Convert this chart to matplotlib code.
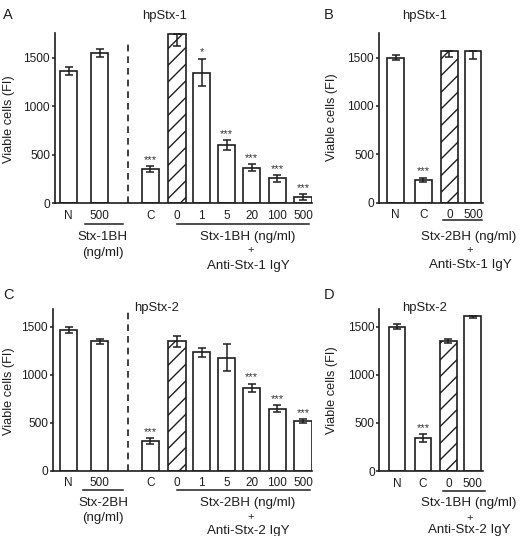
import matplotlib
matplotlib.use("Agg")
import matplotlib.pyplot as plt
from matplotlib.lines import Line2D

plt.rcParams['font.family'] = ['Liberation Sans', 'DejaVu Sans']
plt.rcParams['hatch.linewidth'] = 1.0
INK = '#1e1e1e'

W, H = 527, 536

# ---------------- data ----------------
A_labels = ['N', '500', 'C', '0', '1', '5', '20', '100', '500']
A_vals = [1362, 1545, 352, 1745, 1345, 598, 366, 253, 60]
A_err_lo = [38, 43, 28, 125, 143, 48, 34, 34, 30]
A_err_hi = [38, 43, 28, 0, 143, 48, 34, 34, 30]
A_sig = ['', '', '***', '', '*', '***', '***', '***', '***']

B_labels = ['N', 'C', '0', '500']
B_vals = [1500, 235, 1570, 1570]
B_err_lo = [28, 25, 68, 85]
B_err_hi = [28, 25, 0, 0]
B_sig = ['', '***', '', '']

C_labels = ['N', '500', 'C', '0', '1', '5', '20', '100', '500']
C_vals = [1465, 1345, 305, 1345, 1230, 1175, 860, 645, 515]
C_err_lo = [30, 22, 30, 55, 50, 140, 42, 35, 20]
C_err_hi = [30, 22, 30, 55, 50, 140, 42, 35, 20]
C_sig = ['', '', '***', '', '', '', '***', '***', '***']

D_labels = ['N', 'C', '0', '500']
D_vals = [1500, 342, 1348, 1615]
D_err_lo = [26, 38, 20, 30]
D_err_hi = [26, 38, 20, 0]
D_sig = ['', '***', '', '']

yticks = [0, 500, 1000, 1500]

# ---------------- layout ----------------
pos_wide = [0, 1.23, 3.25, 4.31, 5.28, 6.27, 7.26, 8.29, 9.31]
pos_B = [0, 1.07, 2.08, 2.99]
pos_D = [0, 1.01, 1.99, 2.93]


def fx(px):
    return px / W


def fy(py):
    return 1 - py / H


fig = plt.figure(figsize=(W / 100, H / 100), dpi=100)


def make_ax(left, right, top, bottom):
    return fig.add_axes([fx(left), fy(bottom), (right - left) / W, (bottom - top) / H])


def draw(ax, pos, vals, lo, hi, sig, labels, hatch_idx, width, xlim, ylim):
    bars = ax.bar(pos, vals, width=width, color='white', edgecolor=INK,
                  linewidth=1.2, zorder=2)
    bars[hatch_idx].set_hatch('//')
    ax.errorbar(pos, vals, yerr=[lo, hi], fmt='none', ecolor=INK,
                elinewidth=1.1, capsize=3.2, capthick=1.1, zorder=3)
    for x, v, h, s in zip(pos, vals, hi, sig):
        if s:
            ax.annotate(s, (x, v + h), xytext=(0, 1.0), textcoords='offset points',
                        ha='center', va='bottom', fontsize=8, color='#333333')
    ax.set_xlim(*xlim)
    ax.set_ylim(*ylim)
    ax.set_yticks(yticks)
    ax.set_xticks(pos)
    ax.set_xticklabels(labels)
    for s in ['top', 'right']:
        ax.spines[s].set_visible(False)
    for s in ['left', 'bottom']:
        ax.spines[s].set_linewidth(1.2)
        ax.spines[s].set_color(INK)
    ax.tick_params(axis='y', length=2.5, width=1.1, pad=0.8, labelsize=8.6, colors=INK)
    ax.tick_params(axis='x', length=0, pad=4.8, labelsize=8.5, colors=INK)
    ax.set_facecolor('none')


axA = make_ax(54.5, 312, 33.3, 203)
draw(axA, pos_wide, A_vals, A_err_lo, A_err_hi, A_sig, A_labels, 3, 0.7,
     (-0.556, 9.66), (0, 1750))
axA.axvline(2.37, ymin=0, ymax=0.96, color=INK, linestyle=(0, (4, 3)), linewidth=1.2)

axB = make_ax(378.5, 483, 33.3, 202.7)
draw(axB, pos_B, B_vals, B_err_lo, B_err_hi, B_sig, B_labels, 2, 0.65,
     (-0.667, 3.38), (0, 1750))

axC = make_ax(52.5, 312, 309.3, 470.5)
draw(axC, pos_wide, C_vals, C_err_lo, C_err_hi, C_sig, C_labels, 3, 0.7,
     (-0.635, 9.66), (0, 1680))
axC.axvline(2.37, ymin=0, ymax=1.0, color=INK, linestyle=(0, (4, 3)), linewidth=1.2)

axD = make_ax(379.3, 483, 309.3, 471)
draw(axD, pos_D, D_vals, D_err_lo, D_err_hi, D_sig, D_labels, 2, 0.65,
     (-0.686, 3.33), (0, 1680))


def ftext(x, y, s, size=9.6, ha='center', rot=0):
    fig.text(fx(x), fy(y), s, ha=ha, va='center', fontsize=size, color=INK, rotation=rot)


def hline(x0, x1, y):
    fig.add_artist(Line2D([fx(x0), fx(x1)], [fy(y), fy(y)], color=INK, linewidth=1.1))


# y labels
for (x, y) in [(9, 119), (332, 117), (9, 391), (332, 390)]:
    ftext(x, y, 'Viable cells (FI)', size=9.2, rot=90)

# panel letters
ftext(3, 15, 'A', size=10.5, ha='left')
ftext(324, 15, 'B', size=10.5, ha='left')
ftext(3, 295, 'C', size=10.5, ha='left')
ftext(324, 295, 'D', size=10.5, ha='left')

# titles
ftext(165, 16, 'hpStx-1', size=9.4)
ftext(425, 16, 'hpStx-1', size=9.4)
ftext(134, 308, 'hpStx-2', size=9.4, ha='left')
ftext(425, 308, 'hpStx-2', size=9.4)

# group annotations A
hline(85, 122.7, 224.3)
ftext(103, 236.7, 'Stx-1BH')
ftext(103, 253.3, '(ng/ml)')
hline(176.7, 309.3, 224.3)
ftext(248, 236.7, 'Stx-1BH (ng/ml)')
ftext(251, 250, '+', size=8)
ftext(248, 265.7, 'Anti-Stx-1 IgY')

# B
hline(442.7, 481.7, 220)
ftext(469, 236.7, 'Stx-2BH (ng/ml)')
ftext(470, 250, '+', size=8)
ftext(470, 265, 'Anti-Stx-1 IgY')

# C
hline(83, 122.7, 490)
ftext(103, 503.3, 'Stx-2BH')
ftext(103, 518.3, '(ng/ml)')
hline(176.7, 310, 490)
ftext(248, 503.3, 'Stx-2BH (ng/ml)')
ftext(251, 516.7, '+', size=8)
ftext(248, 531, 'Anti-Stx-2 IgY')

# D
hline(443, 485, 490.7)
ftext(469, 503.3, 'Stx-1BH (ng/ml)')
ftext(470, 518, '+', size=8)
ftext(469, 530, 'Anti-Stx-2 IgY')

fig.savefig('out.png', dpi=100)
